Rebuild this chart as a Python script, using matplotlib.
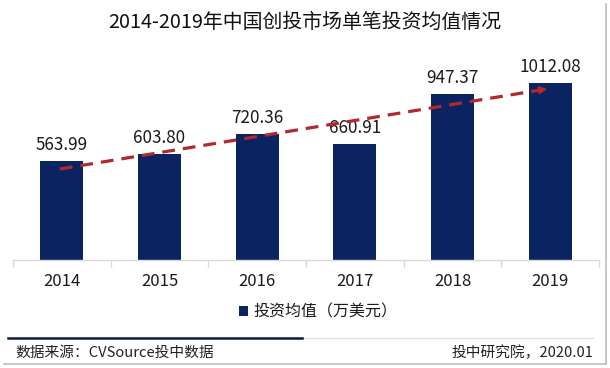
import numpy as np
import matplotlib
matplotlib.use("Agg")
import matplotlib.pyplot as plt
from matplotlib.patches import Patch
from matplotlib.lines import Line2D

plt.rcParams['font.family'] = ['Noto Sans CJK SC', 'DejaVu Sans']

years = ['2014', '2015', '2016', '2017', '2018', '2019']
values = [563.99, 603.80, 720.36, 660.91, 947.37, 1012.08]
value_labels = ['563.99', '603.80', '720.36', '660.91', '947.37', '1012.08']
title = '2014-2019年中国创投市场单笔投资均值情况'
legend_label = '投资均值（万美元）'
source_text = '数据来源：CVSource投中数据'
credit_text = '投中研究院，2020.01'

W, H = 610, 368
fig = plt.figure(figsize=(W / 100, H / 100), dpi=100)
fig.patch.set_facecolor('white')

def fx(px):
    return px / W

def fy(py):
    return 1 - py / H

ax = fig.add_axes([fx(13), fy(260), (599 - 13) / W, 200 / H])
x = np.arange(len(years))
bar_color = '#0a2461'
ax.bar(x, values, width=0.44, color=bar_color, zorder=2)
ax.set_xlim(-0.5, len(years) - 0.5)
ax.set_ylim(0, 1143)

for xi, v, lab in zip(x, values, value_labels):
    ax.annotate(lab, (xi, v), xytext=(0, 7.9), textcoords='offset points',
                ha='center', va='baseline', fontsize=12.3, color='#1a1a1a', zorder=3)

# linear trend line
coef = np.polyfit(x, values, 1)
trend = np.poly1d(coef)
red = '#b3282d'
xs = np.array([-0.02, 4.93])
ax.plot(xs, trend(xs), linestyle=(0, (4, 2.5)), color=red, lw=2.3, zorder=4)
ax.annotate('', xy=(4.97, trend(4.97)), xytext=(4.82, trend(4.82)),
            arrowprops=dict(arrowstyle='-|>', color=red, lw=1.5, mutation_scale=11,
                            shrinkA=0, shrinkB=0), zorder=5)

for s in ['top', 'right', 'left']:
    ax.spines[s].set_visible(False)
ax.spines['bottom'].set_color('#d9d9d9')
ax.spines['bottom'].set_linewidth(1.0)
ax.set_yticks([])
ax.set_xticks(np.arange(-0.5, len(years) + 0.5, 1.0), minor=False)
ax.set_xticklabels([''] * (len(years) + 1))
ax.tick_params(axis='x', which='major', length=5, color='#d9d9d9', width=1.0)
ax.set_xticks(x, minor=True)
ax.set_xticklabels(years, minor=True)
ax.tick_params(axis='x', which='minor', length=0, pad=9, labelsize=12, labelcolor='#1a1a1a')

fig.text(0.5, fy(22), title, ha='center', va='center', fontsize=14.3, color='#111111')

fig.legend(handles=[Patch(facecolor=bar_color, edgecolor='none')], labels=[legend_label],
           loc='center', bbox_to_anchor=(fx(318), fy(312)), frameon=False,
           handlelength=0.6, handleheight=0.6, handletextpad=0.3, fontsize=11.5,
           labelcolor='#1a1a1a')

# footer lines
fig.add_artist(Line2D([fx(302), fx(593)], [fy(338), fy(338)], color='#e0e0e0', lw=1.0))
fig.add_artist(Line2D([fx(8), fx(302)], [fy(338), fy(338)], color='#0d1a3a', lw=1.8))

fig.text(fx(15), fy(353), source_text, ha='left', va='center', fontsize=10.6, color='#222222')
fig.text(fx(593), fy(353), credit_text, ha='right', va='center', fontsize=10.6, color='#222222')

# frame shadow lines
fig.add_artist(Line2D([fx(606), fx(606)], [fy(4), fy(364)], color='#bdbdbd', lw=1.2))
fig.add_artist(Line2D([fx(4), fx(606)], [fy(364), fy(364)], color='#bdbdbd', lw=1.2))

fig.savefig('out.png', dpi=100, facecolor='white')
